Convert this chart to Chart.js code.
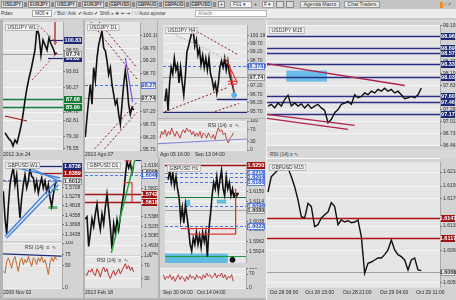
<!DOCTYPE html>
<html>
<head>
<meta charset="utf-8">
<script src="https://cdn.jsdelivr.net/npm/chart.js@4.4.0/dist/chart.umd.min.js"></script>
<style>
  html, body { margin: 0; padding: 0; }
  body { width: 456px; height: 300px; overflow: hidden; position: relative; background: #b4b4b4;
         font-family: "Liberation Sans", Arial, sans-serif; }
  canvas { position: absolute; }
  .bx { position: absolute; box-sizing: border-box; font-size: 5px; line-height: 7px; white-space: nowrap; color: #333; }
</style>
</head>
<body>
<script>
// ---------- data : USDJPY ----------
const usdjpyNow = 97.74;

const ujW1Price = [80.11, 79.44, 78.77, 78.33, 77.21, 78.55, 77.88, 79.66, 81.67, 84.12, 87.46, 90.14, 92.36, 94.15,
  96.37, 98.60, 103.50, 101.94, 97.49, 100.83, 99.72, 98.60, 101.28, 99.94, 99.05, 97.71, 97.93];
const ujW1Ticks = [98.50, 93.81, 90.27, 84.78, 82.81, 79.30, 76.55];
const ujW1Navy = [100.83, 96.82];
const ujW1Green = [87.68, 85.90];
const ujW1Wedge = [[13.5, 91.92, 26, 97.93], [16.5, 104.17, 26, 100.16]];
const ujW1RedMarks = [[0, 83.90, 11, 82.78], [25, 106.0, 25, 99.72]];
const ujW1Dates = ['2012 Jun 24'];

const ujD1Price = [96.21, 96.99, 97.66, 98.28, 97.50, 98.94, 98.44, 99.33, 99.84, 100.11, 100.39, 99.72, 99.61, 99.22,
  98.67, 98.94, 98.28, 97.89, 97.50, 97.66, 97.11, 96.72, 97.50, 98.28, 98.83, 98.28, 97.50, 97.11, 97.38, 97.27];
const ujD1Ticks = [100.19, 99.70, 99.20, 98.70, 97.20, 96.70, 96.20, 95.70];
const ujD1Pivot = 98.27;
const ujD1Channel = [[3, 100.76, 31, 98.49], [8, 100.76, 31, 98.94], [4, 95.63, 31, 97.58], [10, 95.63, 31, 97.19]];
const ujD1Leg = [[24, 99.33, 28.4, 97.58]];
const ujD1Dates = ['2013 Ago 07'];

const ujH4Price = [96.28, 97.04, 95.74, 97.37, 98.29, 97.91, 98.83, 98.13, 98.45, 97.37, 98.29, 97.37, 96.66, 97.75,
  99.21, 99.54, 99.92, 100.30, 100.46, 99.54, 99.92, 99.00, 99.38, 98.45, 99.00, 98.29, 98.83, 98.13, 98.83, 97.91,
  97.58, 97.04, 97.37, 96.77, 97.37, 98.29, 98.67, 98.29, 98.83, 98.13, 98.67, 97.91, 97.58, 97.20, 96.82];
const ujH4Rsi = [41, 64, 53, 70, 47, 64, 53, 76, 59, 47, 64, 53, 41, 59, 70, 59, 76, 64, 70, 53, 64, 47, 59, 47, 64,
  41, 59, 53, 41, 59, 47, 41, 53, 36, 59, 76, 64, 70, 53, 59, 36, 24, 41, 47, 59];
const ujH4Ticks = [100.19, 99.70, 99.20, 98.70, 97.20, 96.70, 96.20, 95.70];
const ujH4Pivot = 98.3782;
const ujH4Channel = [[16, 100.64, 47, 99.01], [0, 95.68, 40, 97.11], [27, 95.54, 47, 96.16]];
const ujH4Faint = [[5, 100.28, 40, 98.74]];
const ujH4Floor = 95.63;
const ujH4Floor2 = 96.44;
const ujH4RedMarks = [[39, 98.74, 46, 97.38], [41, 98.47, 44, 96.84], [40, 97.47, 46, 97.47], [40, 97.31, 46, 97.31]];
const ujH4Spot = [44, 96.66];
const ujH4RsiTrend = [[-1.2, 22, 52.2, 38]];
const ujH4Dates = ['Ago 05 16:00', 'Sep 13 04:00'];

const ujM15Price = [97.36, 97.40, 97.32, 97.43, 97.36, 97.51, 97.61, 97.36, 97.43, 97.36, 97.41, 97.32, 97.40, 97.31,
  97.36, 97.40, 97.32, 97.26, 96.98, 97.06, 97.21, 97.28, 97.40, 97.43, 97.47, 97.40, 97.62, 97.55, 97.58, 97.66,
  97.62, 97.70, 97.66, 97.74, 97.70, 97.77, 97.70, 97.74, 97.66, 97.70, 97.62, 97.53, 97.55, 97.58, 97.55, 97.62, 97.77];
const ujM15Ticks = [99.19, 98.91, 98.64, 98.37, 98.10, 97.83, 97.55, 97.28, 97.01, 96.73, 96.46];
const ujM15Levels = [98.96, 98.69, 98.57, 98.33, 98.03, 97.60, 97.46, 97.17];
const ujM15Channel = [[-0.3, 98.33, 41, 97.83], [-0.3, 97.17, 26, 96.92], [-0.3, 97.08, 24, 96.83]];
const ujM15Zone = [5.5, 17.7, 97.92, 98.17];

// ---------- data : GBPUSD ----------
const guW1Price = [1.5512, 1.4221, 1.3447, 1.4787, 1.5833, 1.6317, 1.6641, 1.5833, 1.6317, 1.5189, 1.4221, 1.5189,
  1.5833, 1.6317, 1.5673, 1.5997, 1.6641, 1.6239, 1.6157, 1.5592, 1.5997, 1.5431, 1.5833, 1.6157, 1.5673, 1.5997,
  1.5512, 1.5833, 1.5189, 1.4787, 1.5349, 1.5833, 1.5997];
const guW1Rsi = [37, 33, 59, 67, 56, 44, 63, 70, 52, 37, 59, 67, 52, 63, 56, 70, 59, 48, 67, 63, 52, 67, 59, 70, 56,
  63, 48, 30, 56, 67, 59, 69, 63];
const guW1Ticks = [1.5708, 1.5278, 1.4818, 1.4358, 1.3898, 1.3438];
const guW1Top = 1.6738;
const guW1Sell = 1.6389;
const guW1Pivot = 1.6075;
const guW1Now = 1.6012;
const guW1Lines = [[1, 1.3335, 32, 1.6012], [2, 1.3253, 33, 1.5833], [4, 1.6723, 34, 1.6157], [16, 1.6641, 34, 1.5997]];
const guW1Target = 1.5592;
const guW1Box = [27, 32.4, 1.4657, 1.4802];
const guW1RsiTrend = [[-0.2, 76, 35, 71]];
const guW1Dates = ['2009 Nov 02'];

const guD1Price = [1.5354, 1.5386, 1.4920, 1.5122, 1.5354, 1.5231, 1.5432, 1.5587, 1.5339, 1.5184, 1.5432, 1.5277,
  1.5541, 1.5742, 1.5494, 1.5231, 1.4874, 1.5277, 1.5122, 1.5339, 1.5184, 1.5386, 1.5587, 1.5742, 1.6037, 1.6269,
  1.6161, 1.6238, 1.6083, 1.6192];
const guD1Rsi = [44, 39, 55, 50, 60, 44, 39, 60, 50, 34, 55, 65, 50, 60, 39, 29, 44, 55, 39, 50, 60, 44, 55, 65, 76,
  60, 70, 55, 65, 50];
const guD1Ticks = [1.6190, 1.5837, 1.5386, 1.5235, 1.5085, 1.4936, 1.4784];
const guD1Zone = [1.5742, 1.5618];
const guD1Pivot = 1.6046;
const guD1Now = 1.6098;
const guD1Trend = [[15.6, 1.4817, 30, 1.6316]];
const guD1RedMarks = [[23, 1.5928, 28, 1.5928], [28, 1.5928, 28, 1.5618], [23.6, 1.6269, 28, 1.6269]];
const guD1NavyMark = [[30, 1.6280, 34, 1.6280]];
const guD1Dates = ['2013 Feb 18'];

const guH1Price = [1.6194, 1.6229, 1.6184, 1.6219, 1.6170, 1.6205, 1.6160, 1.6125, 1.6045, 1.6090, 1.6031, 1.6101,
  1.6056, 1.6011, 1.5952, 1.5927, 1.5976, 1.5952, 1.5997, 1.5952, 1.5986, 1.5941, 1.5997, 1.5962, 1.5997, 1.5906,
  1.6011, 1.6066, 1.6135, 1.6184, 1.6160, 1.6205, 1.6149, 1.6194, 1.6229, 1.6160, 1.6135, 1.6205, 1.6160, 1.6184,
  1.6135, 1.6160, 1.6125];
const guH1Rsi = [67, 42, 58, 50, 67, 42, 58, 33, 50, 67, 42, 58, 50, 33, 58, 42, 67, 50, 58, 42, 67, 50, 58, 42, 67,
  50, 75, 58, 67, 50, 58, 75, 50, 67, 58, 75, 50, 67, 42, 58, 50, 67, 33];
const guH1Ticks = [1.6150, 1.6114, 1.6038, 1.6008, 1.5962, 1.5924];
const guH1Top = 1.6250;
const guH1Pivots = [1.6218, 1.6204, 1.6186, 1.6096, 1.6022];
const guH1Now = 1.6080;
const guH1Green = [1.6129];
const guH1Base = 1.5910;
const guH1RedMarks = [[8, 1.6011, 43, 1.6011], [14, 1.5990, 43, 1.5990], [43, 1.6160, 43, 1.5990]];
const guH1Zones = [[-2, 38, 1.5882, 1.5917], [11, 14, 1.6096, 1.6119], [31, 37, 1.6105, 1.6119]];
const guH1Arrow = [43, 1.6137];
const guH1Blob = [41, 1.5894];
const guH1Dates = ['Sep 30 04:00', 'Oct 14 04:00'];

const guM15Price = [1.6186, 1.6209, 1.6214, 1.6219, 1.6220, 1.6223, 1.6222, 1.6209, 1.6194, 1.6174, 1.6149, 1.6147,
  1.6169, 1.6164, 1.6134, 1.6137, 1.6147, 1.6152, 1.6156, 1.6170, 1.6164, 1.6137, 1.6144, 1.6141, 1.6143, 1.6140,
  1.6141, 1.6144, 1.6119, 1.6064, 1.6079, 1.6081, 1.6084, 1.6087, 1.6087, 1.6092, 1.6099, 1.6114, 1.6099, 1.6092,
  1.6089, 1.6084, 1.6069, 1.6084, 1.6087, 1.6069, 1.6068];
const guM15Ticks = [1.6216, 1.6195, 1.6176, 1.6135, 1.6098, 1.6050];
const guM15Levels = [1.6147, 1.6117];
const guM15Now = 1.6066;
const guM15Dates = ['Oct 28 08:00', 'Oct 28 15:00', 'Oct 28 21:00', 'Oct 29 04:00', 'Oct 29 11:00'];
const guM15DatePos = [0.5, 11.2, 22.5, 33.5, 44.5];

// toolbar texts
const tabNames = ['USDJPY', 'EURJPY', 'USDJPY', 'EURJPY', 'GBPUSD', 'GBPAUD', 'GBPAUD', 'GBPUSD'];

// ---------- style ----------
const FONT = '"Liberation Sans", Arial, sans-serif';
const PLOT_BG = '#e6e6e6', AXIS_BG = '#d3d3d3';
const MAROON = '#8e1c1c', RED = '#e23434', NAVY = '#1d2878', GREEN = '#13803a', BLUE = '#4b78e6';
const GRAYL = '#a0a0a0', PURPLE = '#7a52e0', TEAL = 'rgba(70,180,220,0.85)';
const PRICE_W = 1.6;
const TAG = {
  navy: { bg: NAVY, fg: '#fff' },
  red: { bg: '#a01414', fg: '#fff' },
  green: { bg: '#137a34', fg: '#fff' },
  blue: { bg: '#eef3ff', bd: '#5a7fe0', fg: '#2a4fc0' },
  gray: { bg: '#ececec', bd: '#9a9a9a', fg: '#333' }
};

function decor(cfg) {
  return {
    id: 'decor',
    beforeDraw(ch) {
      const { ctx, chartArea: a, width, height } = ch;
      ctx.save();
      ctx.fillStyle = AXIS_BG;
      ctx.fillRect(0, 0, width, height);
      ctx.fillStyle = PLOT_BG;
      ctx.fillRect(a.left, a.top, a.right - a.left, a.bottom - a.top);
      ctx.fillStyle = '#a9a9a9';
      ctx.fillRect(a.right, a.top, 1, a.bottom - a.top);
      ctx.restore();
    },
    beforeDatasetsDraw(ch) {
      const { ctx, chartArea: a, scales: { x, y } } = ch;
      ctx.save();
      ctx.beginPath();
      ctx.rect(a.left, a.top, a.right - a.left, a.bottom - a.top);
      ctx.clip();
      (cfg.bands || []).forEach(b => {
        const x1 = x.getPixelForValue(b.r[0]), x2 = x.getPixelForValue(b.r[1]);
        const y1 = y.getPixelForValue(b.r[2]), y2 = y.getPixelForValue(b.r[3]);
        ctx.fillStyle = b.color;
        ctx.fillRect(x1, Math.min(y1, y2), x2 - x1, Math.abs(y2 - y1));
      });
      (cfg.levels || []).forEach(l => {
        const py = Math.round(y.getPixelForValue(l.v)) + 0.5;
        const x1 = l.from == null ? a.left : x.getPixelForValue(l.from);
        ctx.strokeStyle = l.color;
        ctx.lineWidth = l.w || 1;
        ctx.setLineDash(l.dash || []);
        ctx.beginPath();
        ctx.moveTo(x1, py);
        ctx.lineTo(a.right, py);
        ctx.stroke();
      });
      ctx.restore();
    },
    afterDraw(ch) {
      const { ctx, chartArea: a, width, scales: { y } } = ch;
      ctx.save();
      ctx.textBaseline = 'middle';
      (cfg.tags || []).forEach(t => {
        const s = TAG[t.kind];
        const py = Math.round(y.getPixelForValue(t.v));
        const x0 = a.right + 1, w = width - x0 - 1;
        ctx.fillStyle = s.bg;
        ctx.fillRect(x0, py - 3, w, 7);
        if (s.bd) {
          ctx.strokeStyle = s.bd;
          ctx.lineWidth = 1;
          ctx.strokeRect(x0 + 0.5, py - 2.5, w - 1, 6);
        }
        ctx.fillStyle = s.fg;
        ctx.font = 'bold 5.5px ' + FONT;
        ctx.textAlign = 'center';
        ctx.fillText(t.v.toFixed(t.dec != null ? t.dec : cfg.dec), x0 + w / 2, py + 0.5);
      });
      if (cfg.title) {
        ctx.font = '5px ' + FONT;
        const tw = ctx.measureText(cfg.title).width;
        ctx.fillStyle = 'rgba(246,246,246,0.85)';
        ctx.fillRect(a.left + 2, a.top + 2, tw + 5, 7);
        ctx.strokeStyle = '#b9b9b9';
        ctx.strokeRect(a.left + 2.5, a.top + 2.5, tw + 4, 6);
        ctx.fillStyle = '#333';
        ctx.textAlign = 'left';
        ctx.fillText(cfg.title, a.left + 4.5, a.top + 6);
      }
      if (cfg.note) {
        ctx.font = '5px ' + FONT;
        ctx.fillStyle = '#333';
        ctx.textAlign = 'left';
        ctx.fillText(cfg.note.text, a.left + cfg.note.dx, a.top + 5);
      }
      ctx.restore();
    }
  };
}

function panel(box, cfg) {
  const cv = document.createElement('canvas');
  cv.width = box.w; cv.height = box.h;
  cv.style.left = box.x + 'px'; cv.style.top = box.y + 'px';
  cv.style.width = box.w + 'px'; cv.style.height = box.h + 'px';
  document.body.appendChild(cv);

  const ds = [];
  (cfg.segments || []).forEach(s => ds.push({
    data: [{ x: s.p[0], y: s.p[1] }, { x: s.p[2], y: s.p[3] }],
    borderColor: s.color, borderWidth: s.w || 1, borderDash: s.dash || [], pointRadius: 0
  }));
  cfg.series.forEach(s => ds.push({
    data: s.values.map((v, i) => ({ x: i, y: v })),
    borderColor: s.color, borderWidth: s.w || 1, pointRadius: 0, tension: 0, borderJoinStyle: 'miter'
  }));
  (cfg.dots || []).forEach(d => ds.push({
    data: [{ x: d.p[0], y: d.p[1] }], showLine: false, pointRadius: d.r, pointStyle: d.style || 'circle',
    rotation: d.rot || 0, pointBackgroundColor: d.color, pointBorderColor: d.color
  }));

  return new Chart(cv, {
    type: 'line',
    data: { datasets: ds },
    options: {
      responsive: false, animation: false, devicePixelRatio: 1, events: [],
      layout: { padding: { top: box.pt || 0, bottom: box.pb || 0, left: 0, right: 0 } },
      plugins: { legend: { display: false }, tooltip: { enabled: false } },
      scales: {
        x: {
          type: 'linear', min: cfg.xr[0], max: cfg.xr[1], display: !!cfg.xTicks,
          grid: { display: false, drawTicks: false }, border: { display: false },
          afterBuildTicks: sc => { if (cfg.xTicks) sc.ticks = cfg.xTicks.map(v => ({ value: v })); },
          afterFit: sc => { sc.height = box.xh || 0; sc.paddingLeft = 0; sc.paddingRight = 0; },
          ticks: {
            autoSkip: false, maxRotation: 0, minRotation: 0, align: 'start', padding: 2, color: '#2b2b2b',
            font: { family: FONT, size: 5 }, callback: (v, i) => cfg.xLabels ? cfg.xLabels[i] : ''
          }
        },
        y: {
          position: 'right', min: cfg.yr[0], max: cfg.yr[1],
          grid: { color: 'rgba(255,255,255,0.6)', tickColor: '#777', tickLength: 2 },
          border: { display: false },
          afterBuildTicks: sc => { sc.ticks = cfg.yTicks.map(v => ({ value: v })); },
          afterFit: sc => { sc.width = box.aw; sc.paddingTop = 0; sc.paddingBottom = 0; },
          ticks: {
            autoSkip: false, padding: 1, color: '#333', font: { family: FONT, size: 5 },
            callback: v => v.toFixed(cfg.dec)
          }
        }
      }
    },
    plugins: [decor(cfg)]
  });
}

const seg = (list, color, w, dash) => list.map(p => ({ p, color, w, dash }));
const tagsOf = (list, kind, dec) => list.map(v => ({ v, kind, dec }));
const RSI_TICKS_A = [100, 70, 30, 0];

// ---------- USDJPY W1 ----------
panel({ x: 3, y: 20, w: 80, h: 138, pt: 2, xh: 8, aw: 20 }, {
  series: [{ values: ujW1Price, color: '#111', w: PRICE_W }],
  xr: [-1, 29], yr: [76.32, 104.84], yTicks: ujW1Ticks, dec: 2,
  xTicks: [-1], xLabels: ujW1Dates,
  levels: [
    ...ujW1Green.map(v => ({ v, color: GREEN, w: 1.5 })),
    { v: usdjpyNow, color: GRAYL },
    ...ujW1Navy.map(v => ({ v, color: NAVY, w: 1.2, from: 21.5 }))
  ],
  segments: [...seg(ujW1Wedge, '#c02a2a', 1, [2, 2]), ...seg(ujW1RedMarks, '#a01818', 1.2)],
  tags: [...tagsOf(ujW1Navy, 'navy'), ...tagsOf(ujW1Green, 'green'), { v: usdjpyNow, kind: 'gray' }],
  title: 'USDJPY W1'
});

// ---------- USDJPY D1 ----------
panel({ x: 85, y: 20, w: 72, h: 138, pt: 2, xh: 8, aw: 17 }, {
  series: [{ values: ujD1Price, color: '#111', w: PRICE_W }],
  xr: [-0.2, 32.8], yr: [95.70, 100.74], yTicks: ujD1Ticks, dec: 2,
  xTicks: [-0.2], xLabels: ujD1Dates,
  levels: [
    { v: ujD1Pivot, color: BLUE, dash: [3, 2] },
    { v: usdjpyNow, color: GRAYL }
  ],
  segments: [...seg(ujD1Channel, MAROON, 1, [2, 2]), ...seg(ujD1Leg, PURPLE, 1.2)],
  tags: [{ v: ujD1Pivot, kind: 'blue' }, { v: usdjpyNow, kind: 'gray' }],
  title: 'USDJPY D1'
});

// ---------- USDJPY H4 ----------
panel({ x: 158, y: 20, w: 108, h: 98, pt: 2, aw: 19 }, {
  series: [{ values: ujH4Price, color: '#111', w: PRICE_W }],
  xr: [-1.2, 52.2], yr: [95.60, 100.79], yTicks: ujH4Ticks, dec: 2,
  levels: [
    { v: ujH4Pivot, color: BLUE, dash: [3, 2] },
    { v: usdjpyNow, color: GRAYL },
    { v: ujH4Floor, color: NAVY, w: 1.5 },
    { v: ujH4Floor2, color: NAVY, w: 1.5, from: 33 }
  ],
  segments: [...seg(ujH4Faint, '#c9a0a0', 1, [2, 2]), ...seg(ujH4Channel, MAROON, 1, [2, 2]),
             ...seg(ujH4RedMarks, RED, 1.2)],
  dots: [{ p: ujH4Spot, r: 2.5, color: '#5ab4e5' }],
  tags: [{ v: ujH4Pivot, kind: 'blue', dec: 4 }, { v: usdjpyNow, kind: 'gray' }],
  title: 'USDJPY H4'
});
panel({ x: 158, y: 119, w: 108, h: 39, pt: 2, xh: 8, aw: 19 }, {
  series: [{ values: ujH4Rsi, color: '#b8322e', w: 0.9 }],
  xr: [-1.2, 52.2], yr: [0, 100], yTicks: RSI_TICKS_A, dec: 0,
  xTicks: [0, 21], xLabels: ujH4Dates,
  segments: seg(ujH4RsiTrend, '#8a8ad8', 1.2),
  note: { text: 'RSI (14)  \u2261  \u223F', dx: 50 }
});

// ---------- USDJPY M15 ----------
panel({ x: 267, y: 22, w: 189, h: 128, pt: 3, pb: 4, aw: 16 }, {
  series: [{ values: ujM15Price, color: '#111', w: 1.4 }],
  xr: [-0.3, 51.6], yr: [96.45, 99.21], yTicks: ujM15Ticks, dec: 2,
  bands: [{ r: ujM15Zone, color: 'rgba(80,180,230,0.85)' }],
  levels: ujM15Levels.map(v => ({ v, color: '#2a2f86', w: 1.3 })),
  segments: seg(ujM15Channel, '#b0204a', 1.3),
  tags: tagsOf(ujM15Levels, 'navy'),
  title: 'USDJPY M15'
});

// ---------- GBPUSD W1 ----------
panel({ x: 3, y: 158, w: 80, h: 83, pt: 2, aw: 21 }, {
  series: [{ values: guW1Price, color: '#111', w: PRICE_W }],
  xr: [-0.2, 35.2], yr: [1.3108, 1.7028], yTicks: guW1Ticks, dec: 4,
  bands: [{ r: guW1Box, color: 'rgba(60,170,90,0.75)' }],
  levels: [
    { v: guW1Pivot, color: BLUE, dash: [3, 2] },
    { v: guW1Top, color: NAVY, w: 1.3, from: 16 },
    { v: guW1Sell, color: '#b01818', w: 1.3, from: 22 },
    { v: guW1Now, color: GRAYL }
  ],
  segments: [...seg(guW1Lines, '#3f7ee0', 1.3), { p: [29, guW1Target, 33, guW1Target], color: '#27a048', w: 1.2 }],
  tags: [{ v: guW1Top, kind: 'navy' }, { v: guW1Sell, kind: 'red' }, { v: guW1Now, kind: 'gray' }],
  title: 'GBPUSD W1'
});
panel({ x: 3, y: 241, w: 80, h: 57, pt: 2, xh: 10, aw: 21 }, {
  series: [{ values: guW1Rsi, color: '#c0652a', w: 1 }],
  xr: [-0.2, 35.2], yr: [0, 100], yTicks: [100, 75, 50, 0], dec: 0,
  xTicks: [-0.2], xLabels: guW1Dates,
  segments: seg(guW1RsiTrend, NAVY, 1.2),
  note: { text: 'RSI (14)  \u2261  \u223F', dx: 22 }
});

// ---------- GBPUSD D1 ----------
panel({ x: 85, y: 158, w: 73, h: 97, pt: 2, aw: 17 }, {
  series: [{ values: guD1Price, color: '#111', w: PRICE_W }],
  xr: [-0.2, 33.4], yr: [1.4784, 1.6285], yTicks: guD1Ticks, dec: 4,
  levels: [
    ...guD1Zone.map(v => ({ v, color: '#a51515', w: 1.3 })),
    { v: guD1Pivot, color: BLUE, dash: [3, 2] },
    { v: guD1Now, color: GRAYL }
  ],
  segments: [...seg(guD1Trend, '#22a83a', 1.5), ...seg(guD1RedMarks, RED, 1.2), ...seg(guD1NavyMark, NAVY, 1.5)],
  tags: [{ v: guD1Now, kind: 'gray' }, { v: guD1Pivot, kind: 'blue' }, ...tagsOf(guD1Zone, 'red')],
  title: 'GBPUSD D1'
});
panel({ x: 85, y: 255, w: 73, h: 43, pt: 1, xh: 10, aw: 17 }, {
  series: [{ values: guD1Rsi, color: '#b8322e', w: 1 }],
  xr: [-0.2, 33.4], yr: [0, 100], yTicks: [100, 70, 30], dec: 0,
  xTicks: [-0.2], xLabels: guD1Dates,
  note: { text: 'RSI (14)  \u2261  \u223F', dx: 12 }
});

// ---------- GBPUSD H1 ----------
panel({ x: 160, y: 158, w: 106, h: 110, pt: 2, aw: 20 }, {
  series: [{ values: guH1Price, color: '#111', w: PRICE_W }],
  xr: [-2, 49.6], yr: [1.5882, 1.6257], yTicks: guH1Ticks, dec: 4,
  bands: guH1Zones.map(r => ({ r, color: TEAL })),
  levels: [
    { v: guH1Top, color: '#9a1414', w: 1.5 },
    ...guH1Pivots.map(v => ({ v, color: BLUE, dash: [3, 2] })),
    ...guH1Green.map(v => ({ v, color: GREEN, w: 1.2 })),
    { v: guH1Base, color: '#1f9a45', w: 1.2 },
    { v: guH1Now, color: GRAYL }
  ],
  segments: seg(guH1RedMarks, RED, 1.3),
  dots: [{ p: guH1Arrow, r: 3.5, style: 'triangle', rot: 180, color: '#111' },
         { p: guH1Blob, r: 2.5, color: '#111' }],
  tags: [{ v: guH1Top, kind: 'red' }, ...tagsOf(guH1Pivots, 'blue'), { v: guH1Now, kind: 'gray' }],
  title: 'GBPUSD H1'
});
panel({ x: 160, y: 268, w: 106, h: 30, pt: 0, xh: 10, aw: 20 }, {
  series: [{ values: guH1Rsi, color: '#b8322e', w: 0.9 }],
  xr: [-2, 49.6], yr: [0, 100], yTicks: [100, 70, 0], dec: 0,
  xTicks: [-0.2, 20.2], xLabels: guH1Dates
});

// ---------- GBPUSD M15 ----------
panel({ x: 267, y: 158, w: 189, h: 142, pt: 4, xh: 12, aw: 16 }, {
  series: [{ values: guM15Price, color: '#111', w: 1.4 }],
  xr: [-0.3, 51.6], yr: [1.6042, 1.6231], yTicks: guM15Ticks, dec: 4,
  xTicks: guM15DatePos, xLabels: guM15Dates,
  levels: [
    ...guM15Levels.map(v => ({ v, color: '#b01212', w: 1.5 })),
    { v: guM15Now, color: GRAYL }
  ],
  tags: [...tagsOf(guM15Levels, 'red'), { v: guM15Now, kind: 'gray' }],
  title: 'GBPUSD M15'
});

// ---------- chrome: toolbars and separators ----------
function box(x, y, w, h, css, text) {
  const d = document.createElement('div');
  d.className = 'bx';
  d.style.cssText += `left:${x}px;top:${y}px;width:${w}px;height:${h}px;` + (css || '');
  if (text) d.textContent = text;
  document.body.appendChild(d);
  return d;
}
box(0, 0, 456, 9, 'background:#c4c4c4;');
tabNames.forEach((t, i) => {
  box(1 + i * 27, 1, 22, 7, 'background:#e6e6e6;border:1px solid #8f8f8f;text-align:center;line-height:5px;font-weight:bold;font-size:4.5px;', t);
  box(24 + i * 27, 2, 3, 5, 'background:#8a8a8a;');
});
box(218, 1, 7, 7, 'background:#e6e6e6;border:1px solid #8f8f8f;text-align:center;line-height:5px;', '+');
box(230, 1, 22, 7, 'background:#f2f2f2;border:1px solid #a0a0a0;line-height:5px;padding-left:2px;', 'F01  \u25BE');
box(254, 1, 6, 7, 'line-height:7px;', '+');
box(262, 1, 12, 7, 'background:#f2f2f2;border:1px solid #a0a0a0;line-height:5px;padding-left:1px;', 'F \u25BE');
box(276, 1, 8, 7, 'background:#dcdcdc;border:1px solid #888;');
box(286, 1, 8, 7, 'background:#dcdcdc;border:1px solid #888;');
box(300, 1, 40, 7, 'background:#e9e9e9;border:1px solid #999;text-align:center;line-height:5px;', 'Agenda Macro');
box(344, 1, 36, 7, 'background:#e9e9e9;border:1px solid #999;text-align:center;line-height:5px;', 'Chat Traders');
box(440, 2, 3, 6, 'background:#f08a24;');
box(445, 1, 10, 7, 'line-height:7px;color:#555;', '\u2044 \u2197');
box(0, 9, 456, 9, 'background:#ececec;');
box(1, 9, 30, 9, 'line-height:9px;', 'Pdax');
box(32, 10, 20, 7, 'background:#fff;border:1px solid #aaa;line-height:5px;padding-left:2px;', 'M05  \u25BE');
box(55, 9, 140, 9, 'line-height:9px;color:#444;',
  '\u2044 Bid   \u2044 Ask   \u2714 Auto  \u2714 Shift  \u00BB   \u2295  \u21E4 \u21E5  \u205E  \u205E   \u2044 Auto ajustar');
box(195, 10, 72, 7, 'background:#fff;border:1px solid #b5b5b5;line-height:5px;padding-left:2px;color:#888;', 'A\u00F1adir');
box(0, 18, 456, 2, 'background:#c8c8c8;');
box(267, 150, 189, 8, 'background:#d8d8d8;line-height:8px;padding-left:3px;', 'RSI (14)  \u2261  \u223F');
box(267, 158, 173, 1, 'background:#fafafa;');
box(266, 20, 1, 280, 'background:#f2f2f2;');
box(267, 20, 189, 2, 'background:#d8d8d8;');
</script>
</body>
</html>
